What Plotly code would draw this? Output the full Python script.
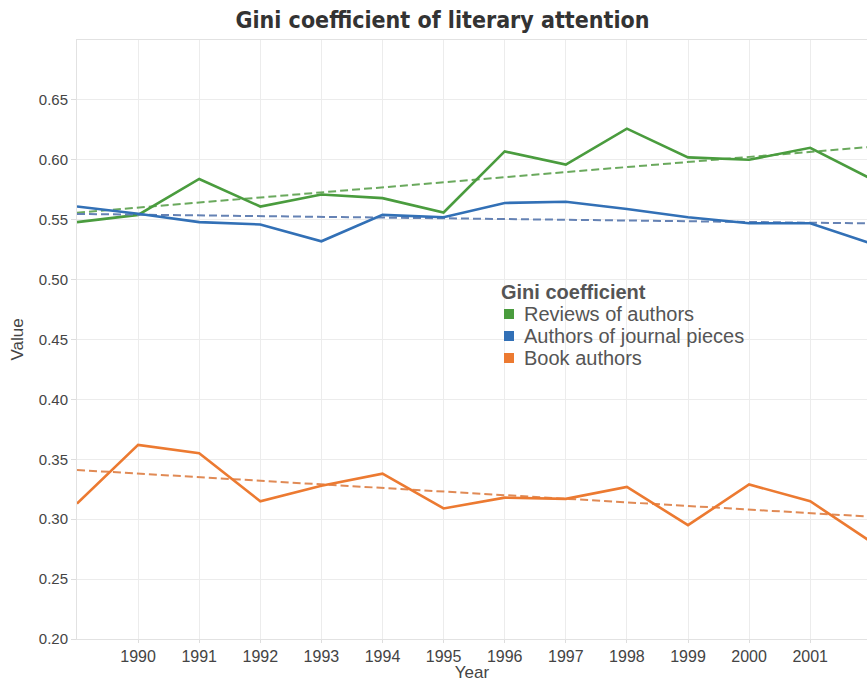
import numpy as np
import plotly.graph_objects as go

# Yearly Gini coefficients of literary attention
years = [1989, 1990, 1991, 1992, 1993, 1994, 1995, 1996, 1997, 1998, 1999, 2000, 2001, 2002]
reviews_of_authors = [0.548, 0.554, 0.584, 0.561, 0.571, 0.568, 0.556, 0.607, 0.596, 0.626,
                      0.602, 0.600, 0.610, 0.584]
journal_authors = [0.561, 0.555, 0.548, 0.546, 0.532, 0.554, 0.552, 0.564, 0.565, 0.559,
                   0.552, 0.547, 0.547, 0.530]
book_authors = [0.313, 0.362, 0.355, 0.315, 0.328, 0.338, 0.309, 0.318, 0.317, 0.327,
                0.295, 0.329, 0.315, 0.281]

series_names = ["Reviews of authors", "Authors of journal pieces", "Book authors"]
series_values = [reviews_of_authors, journal_authors, book_authors]
line_colors = ["#4a9c3e", "#3270b6", "#ec7a31"]
trend_colors = ["#6aa95d", "#6582b4", "#e08a55"]
x_ticks = [1990, 1991, 1992, 1993, 1994, 1995, 1996, 1997, 1998, 1999, 2000, 2001]
y_ticks = [0.20, 0.25, 0.30, 0.35, 0.40, 0.45, 0.50, 0.55, 0.60, 0.65]

fig = go.Figure()

x = np.array(years, dtype=float)
for name, vals, lc, tc in zip(series_names, series_values, line_colors, trend_colors):
    v = np.array(vals)
    # linear trend line fitted to the series
    slope, intercept = np.polyfit(x, v, 1)
    xt = np.array([x.min(), x.max()])
    fig.add_trace(go.Scatter(x=xt, y=slope * xt + intercept, mode="lines",
                             line=dict(color=tc, width=2, dash="8px,4px"),
                             showlegend=False, hoverinfo="skip"))
    fig.add_trace(go.Scatter(x=years, y=vals, mode="lines", name=name,
                             line=dict(color=lc, width=2.6), showlegend=False))

W, H = 867, 682
ml, mr, mt, mb = 77, 0, 40, 43
pw, ph = W - ml - mr, H - mt - mb

def px_x(px):
    return (px - ml) / pw

def px_y(py):
    return (H - mb - py) / ph

# colour key: bold heading, then a square swatch and label per series
legend_font = dict(family="Liberation Sans", size=20, color="#555555")
fig.add_annotation(text="<b>Gini coefficient</b>", xref="paper", yref="paper",
                   x=px_x(499), y=px_y(292), xanchor="left", yanchor="middle",
                   showarrow=False, font=legend_font)
for i, (name, lc) in enumerate(zip(series_names, line_colors)):
    cy = 314 + 22 * i
    fig.add_shape(type="rect", xref="paper", yref="paper",
                  x0=px_x(504), x1=px_x(514), y0=px_y(cy + 5), y1=px_y(cy - 5),
                  fillcolor=lc, line=dict(width=0))
    fig.add_annotation(text=name, xref="paper", yref="paper",
                       x=px_x(522), y=px_y(cy), xanchor="left", yanchor="middle",
                       showarrow=False, font=legend_font)

fig.update_layout(
    width=W, height=H,
    margin=dict(l=ml, r=mr, t=mt, b=mb),
    paper_bgcolor="white", plot_bgcolor="white",
    showlegend=False,
    title=dict(text="<b>Gini coefficient of literary attention</b>", x=442.5 / W, xanchor="center",
               y=1 - 20 / H, yanchor="middle",
               font=dict(family="DejaVu Sans Condensed", size=23, color="#333333")),
    font=dict(family="Liberation Sans", color="#444444"),
    xaxis=dict(range=[1989, 1989 + pw / 61.1], tickvals=x_ticks,
               showgrid=True, gridcolor="#ececec", gridwidth=1,
               showline=True, linecolor="#e2e2e2", mirror=True,
               ticks="outside", ticklen=3, tickcolor="#dddddd",
               tickfont=dict(size=16, color="#444444"), zeroline=False,
               title=dict(text="Year", font=dict(size=17, color="#444444"), standoff=3)),
    yaxis=dict(range=[0.2, 0.7], tickvals=y_ticks, tickformat=".2f",
               showgrid=True, gridcolor="#ececec", gridwidth=1,
               showline=True, linecolor="#e2e2e2",
               ticks="outside", ticklen=5, tickcolor="#dddddd",
               tickfont=dict(size=15, color="#444444"), zeroline=False,
               title=dict(text="Value", font=dict(size=17, color="#444444"), standoff=10)),
)

fig.write_html("out.html")
